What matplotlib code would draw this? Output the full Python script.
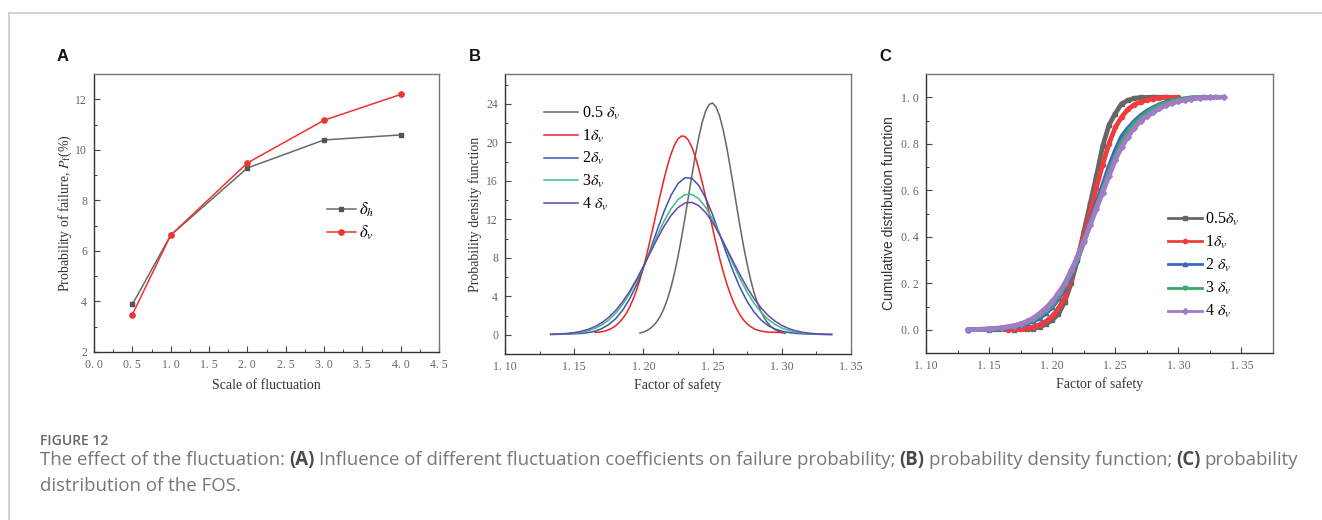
import matplotlib
matplotlib.use("Agg")
import matplotlib.pyplot as plt
from matplotlib.lines import Line2D
from matplotlib.ticker import MultipleLocator

plt.rcParams["font.family"] = ["Liberation Serif", "DejaVu Serif"]
plt.rcParams["mathtext.fontset"] = "stix"

# ---- Panel A: probability of failure vs scale of fluctuation ----
scale = [0.5, 1.0, 2.0, 3.0, 4.0]
pf_h = [3.88, 6.62, 9.28, 10.39, 10.59]
pf_v = [3.48, 6.62, 9.48, 11.17, 12.19]
a_xticks = [0.0, 0.5, 1.0, 1.5, 2.0, 2.5, 3.0, 3.5, 4.0, 4.5]
a_xlabels = ["0. 0", "0. 5", "1. 0", "1. 5", "2. 0", "2. 5", "3. 0", "3. 5", "4. 0", "4. 5"]
a_yticks = [2, 4, 6, 8, 10, 12]

# ---- Panel B: probability density of FOS ----
b_x_05 = [1.1975, 1.2, 1.2025, 1.205, 1.2075, 1.21, 1.2125, 1.215, 1.2175, 1.22, 1.2225,
          1.225, 1.2275, 1.23, 1.2325, 1.235, 1.2375, 1.24, 1.2425, 1.245, 1.2475, 1.25,
          1.2525, 1.255, 1.2575, 1.26, 1.2625, 1.265, 1.2675, 1.27, 1.2725, 1.275, 1.2775,
          1.28, 1.2825, 1.285, 1.2875, 1.29, 1.2925, 1.295, 1.2975, 1.3, 1.3025]
b_y_05 = [0.18, 0.28, 0.43, 0.66, 0.98, 1.42, 2.01, 2.78, 3.76, 4.97, 6.43, 8.13, 10.05,
          12.12, 14.31, 16.50, 18.61, 20.51, 22.09, 23.26, 23.94, 24.08, 23.68, 22.76,
          21.38, 19.63, 17.62, 15.46, 13.25, 11.11, 9.10, 7.29, 5.70, 4.36, 3.26, 2.39,
          1.70, 1.19, 0.81, 0.54, 0.35, 0.23, 0.14]
b_x_1 = [1.165, 1.1675, 1.17, 1.1725, 1.175, 1.1775, 1.18, 1.1825, 1.185, 1.1875, 1.19,
         1.1925, 1.195, 1.1975, 1.2, 1.2025, 1.205, 1.2075, 1.21, 1.2125, 1.215, 1.2175,
         1.22, 1.2225, 1.225, 1.2275, 1.23, 1.2325, 1.235, 1.2375, 1.24, 1.2425, 1.245,
         1.2475, 1.25, 1.2525, 1.255, 1.2575, 1.26, 1.2625, 1.265, 1.2675, 1.27, 1.2725,
         1.275, 1.2775, 1.28, 1.2825, 1.285, 1.2875, 1.29, 1.295, 1.3]
b_y_1 = [0.25, 0.27, 0.32, 0.40, 0.52, 0.70, 0.94, 1.27, 1.68, 2.19, 2.86, 3.67, 4.62,
         5.74, 7.00, 8.40, 9.92, 11.50, 13.13, 14.73, 16.25, 17.63, 18.81, 19.73, 20.36,
         20.66, 20.61, 20.22, 19.51, 18.50, 17.26, 15.83, 14.29, 12.67, 11.06, 9.48, 8.00,
         6.63, 5.41, 4.34, 3.42, 2.66, 2.03, 1.52, 1.12, 0.85, 0.62, 0.48, 0.38, 0.32,
         0.28, 0.25, 0.23]
b_x = [1.133, 1.14, 1.145, 1.15, 1.155, 1.16, 1.165, 1.17, 1.175, 1.18, 1.185, 1.19,
       1.195, 1.2, 1.205, 1.21, 1.215, 1.22, 1.225, 1.23, 1.235, 1.24, 1.245, 1.25, 1.255,
       1.26, 1.265, 1.27, 1.275, 1.28, 1.285, 1.29, 1.295, 1.3, 1.305, 1.31, 1.315, 1.32,
       1.325, 1.33, 1.336]
b_y_2 = [0.03, 0.05, 0.07, 0.10, 0.14, 0.22, 0.37, 0.64, 1.06, 1.68, 2.55, 3.71, 5.17,
         6.91, 8.86, 10.89, 12.84, 14.51, 15.72, 16.32, 16.26, 15.52, 14.21, 12.47, 10.49,
         8.46, 6.54, 4.85, 3.45, 2.35, 1.54, 0.96, 0.60, 0.37, 0.23, 0.15, 0.10, 0.07,
         0.05, 0.03, 0.02]
b_y_3 = [0.04, 0.07, 0.10, 0.16, 0.25, 0.41, 0.66, 1.03, 1.54, 2.24, 3.14, 4.27, 5.59,
         7.09, 8.70, 10.32, 11.83, 13.11, 14.05, 14.56, 14.59, 14.14, 13.24, 12.00, 10.50,
         8.90, 7.28, 5.77, 4.41, 3.27, 2.34, 1.62, 1.08, 0.70, 0.44, 0.28, 0.18, 0.11,
         0.07, 0.05, 0.03]
b_y_4 = [0.05, 0.09, 0.14, 0.22, 0.36, 0.56, 0.85, 1.26, 1.81, 2.53, 3.43, 4.50, 5.74,
         7.11, 8.54, 9.97, 11.29, 12.40, 13.22, 13.69, 13.76, 13.42, 12.70, 11.67, 10.40,
         9.01, 7.57, 6.17, 4.88, 3.75, 2.80, 2.02, 1.42, 0.97, 0.64, 0.41, 0.26, 0.16,
         0.10, 0.06, 0.04]
b_yticks = [0, 4, 8, 12, 16, 20, 24]

# ---- Panel C: cumulative distribution of FOS ----
c_x_05 = [1.15, 1.17, 1.18, 1.185, 1.19, 1.195, 1.2, 1.205, 1.21, 1.215, 1.22, 1.225,
          1.23, 1.235, 1.24, 1.245, 1.25, 1.255, 1.26, 1.265, 1.27, 1.28, 1.29]
c_y_05 = [0.0, 0.0, 0.002, 0.005, 0.012, 0.024, 0.042, 0.068, 0.12, 0.20, 0.30, 0.42,
          0.54, 0.66, 0.79, 0.88, 0.93, 0.972, 0.987, 0.995, 0.999, 1.0, 1.0]
c_x_1 = [1.165, 1.175, 1.18, 1.185, 1.19, 1.195, 1.2, 1.205, 1.21, 1.215, 1.22, 1.225,
         1.23, 1.235, 1.24, 1.245, 1.25, 1.255, 1.26, 1.265, 1.27, 1.275, 1.28, 1.285,
         1.29, 1.3]
c_y_1 = [0.0, 0.003, 0.006, 0.012, 0.022, 0.036, 0.058, 0.092, 0.14, 0.22, 0.31, 0.40,
         0.50, 0.61, 0.71, 0.80, 0.87, 0.915, 0.948, 0.968, 0.98, 0.988, 0.993, 0.997,
         0.999, 1.0]
c_x_2 = [1.133, 1.15, 1.16, 1.17, 1.175, 1.18, 1.185, 1.19, 1.195, 1.2, 1.205, 1.21,
         1.215, 1.22, 1.225, 1.23, 1.235, 1.24, 1.245, 1.25, 1.255, 1.26, 1.265, 1.27,
         1.275, 1.28, 1.285, 1.29, 1.295, 1.3, 1.31, 1.321]
c_y_2 = [0.0, 0.002, 0.006, 0.014, 0.020, 0.028, 0.038, 0.050, 0.072, 0.098, 0.135, 0.18,
         0.235, 0.30, 0.38, 0.46, 0.54, 0.62, 0.70, 0.77, 0.83, 0.865, 0.895, 0.92, 0.94,
         0.955, 0.968, 0.978, 0.985, 0.99, 0.997, 1.0]
c_x_3 = [1.133, 1.15, 1.16, 1.17, 1.175, 1.18, 1.185, 1.19, 1.195, 1.2, 1.205, 1.21,
         1.215, 1.22, 1.225, 1.23, 1.235, 1.24, 1.245, 1.25, 1.255, 1.26, 1.265, 1.27,
         1.275, 1.28, 1.285, 1.29, 1.295, 1.3, 1.31, 1.32, 1.33]
c_y_3 = [0.0, 0.003, 0.007, 0.016, 0.023, 0.032, 0.044, 0.060, 0.082, 0.108, 0.145, 0.19,
         0.245, 0.305, 0.375, 0.45, 0.525, 0.60, 0.675, 0.745, 0.805, 0.85, 0.885, 0.91,
         0.932, 0.95, 0.963, 0.974, 0.982, 0.988, 0.996, 0.999, 1.0]
c_x_4 = [1.133, 1.15, 1.16, 1.17, 1.175, 1.18, 1.185, 1.19, 1.195, 1.2, 1.205, 1.21,
         1.215, 1.22, 1.225, 1.23, 1.235, 1.24, 1.245, 1.25, 1.255, 1.26, 1.265, 1.27,
         1.275, 1.28, 1.285, 1.29, 1.295, 1.3, 1.305, 1.31, 1.317, 1.325, 1.336]
c_y_4 = [0.0, 0.004, 0.009, 0.018, 0.026, 0.036, 0.050, 0.070, 0.094, 0.122, 0.158, 0.20,
         0.255, 0.315, 0.38, 0.45, 0.52, 0.59, 0.66, 0.73, 0.785, 0.83, 0.868, 0.898,
         0.918, 0.935, 0.952, 0.965, 0.975, 0.982, 0.988, 0.992, 0.997, 0.999, 1.0]
c_yticks = [0.0, 0.2, 0.4, 0.6, 0.8, 1.0]
c_ylabels = ["0. 0", "0. 2", "0. 4", "0. 6", "0. 8", "1. 0"]

fos_ticks = [1.10, 1.15, 1.20, 1.25, 1.30, 1.35]
fos_labels = ["1. 10", "1. 15", "1. 20", "1. 25", "1. 30", "1. 35"]

W, H = 1322, 520
fig = plt.figure(figsize=(W / 100, H / 100), dpi=100)


def box(l, t, r, b):
    return [l / W, 1 - b / H, (r - l) / W, (b - t) / H]


def style(ax):
    for s in ["left", "bottom"]:
        ax.spines[s].set_color("#333333")
        ax.spines[s].set_linewidth(1.0)
    for s in ["top", "right"]:
        ax.spines[s].set_color("#777777")
        ax.spines[s].set_linewidth(1.0)
    ax.tick_params(which="both", direction="in", top=False, right=False,
                   color="#444444", labelcolor="#666666", labelsize=8.5)
    ax.tick_params(which="major", length=4, width=0.8, pad=5)
    ax.tick_params(which="minor", length=2.5, width=0.7)


# ---- A ----
ax1 = fig.add_axes(box(94, 74, 439, 352))
ax1.plot(scale, pf_h, color="#6a6a6a", lw=1.1, marker="s", ms=3.4, mfc="#555555",
         mec="#555555", label=r"$\delta_h$")
ax1.plot(scale, pf_v, color="#ee3333", lw=1.1, marker="o", ms=3.8, label=r"$\delta_v$")
ax1.set_xlim(0, 4.5)
ax1.set_ylim(2, 13)
ax1.set_xticks(a_xticks)
ax1.set_xticklabels(a_xlabels)
ax1.set_yticks(a_yticks)
ax1.xaxis.set_minor_locator(MultipleLocator(0.25))
ax1.yaxis.set_minor_locator(MultipleLocator(1))
style(ax1)
ax1.set_xlabel("Scale of fluctuation", fontsize=10, color="#333333", labelpad=6)
ax1.set_ylabel(r"Probability of failure, $P_{\rm f}$(%)", fontsize=10, color="#333333",
               labelpad=1)
ax1.legend(loc="upper left", bbox_to_anchor=(0.674, 0.545), frameon=False, fontsize=12,
           handlelength=1.75, handletextpad=0.2, labelspacing=0.3, borderpad=0,
           borderaxespad=0)

# ---- B ----
ax2 = fig.add_axes(box(505, 74, 851, 354))
b_series = [(b_x_05, b_y_05, "#666666", r"0.5 $\delta_v$"),
            (b_x_1, b_y_1, "#ee2222", r"1$\delta_v$"),
            (b_x, b_y_2, "#3b55ad", r"2$\delta_v$"),
            (b_x, b_y_3, "#3cbc8c", r"3$\delta_v$"),
            (b_x, b_y_4, "#6a44a8", r"4 $\delta_v$")]
for xs, ys, col, lab in b_series:
    ax2.plot(xs, ys, color=col, lw=1.1, label=lab)
ax2.set_xlim(1.10, 1.35)
ax2.set_ylim(-2, 27.1)
ax2.set_xticks(fos_ticks)
ax2.set_xticklabels(fos_labels)
ax2.set_yticks(b_yticks)
ax2.xaxis.set_minor_locator(MultipleLocator(0.025))
ax2.yaxis.set_minor_locator(MultipleLocator(2))
style(ax2)
ax2.set_xlabel("Factor of safety", fontsize=10, color="#333333", labelpad=4)
ax2.set_ylabel("Probability density function", fontsize=10, color="#333333", labelpad=3)
ax2.legend(loc="upper left", bbox_to_anchor=(0.113, 0.89), frameon=False, fontsize=11.5,
           handlelength=2.1, handletextpad=0.3, labelspacing=0.35, borderpad=0,
           borderaxespad=0)

# ---- C ----
ax3 = fig.add_axes(box(926, 74, 1273, 353))
c_series = [(c_x_05, c_y_05, "#666666", "s", r"0.5$\delta_v$"),
            (c_x_1, c_y_1, "#f03c3c", "o", r"1$\delta_v$"),
            (c_x_2, c_y_2, "#3a68bd", "^", r"2 $\delta_v$"),
            (c_x_3, c_y_3, "#3aa86a", "v", r"3 $\delta_v$"),
            (c_x_4, c_y_4, "#a07cc4", "D", r"4 $\delta_v$")]
handles = []
for xs, ys, col, mk, lab in c_series:
    ax3.plot(xs, ys, color=col, lw=3.4, marker=mk, ms=3, solid_capstyle="round")
    handles.append(Line2D([], [], color=col, lw=2.0, marker=mk, ms=3, label=lab))
ax3.set_xlim(1.10, 1.375)
ax3.set_ylim(-0.1, 1.1)
ax3.set_xticks(fos_ticks)
ax3.set_xticklabels(fos_labels)
ax3.set_yticks(c_yticks)
ax3.set_yticklabels(c_ylabels)
ax3.xaxis.set_minor_locator(MultipleLocator(0.025))
ax3.yaxis.set_minor_locator(MultipleLocator(0.1))
style(ax3)
ax3.set_xlabel("Factor of safety", fontsize=10, color="#333333", labelpad=4)
ax3.set_ylabel("Cumulative distribution function", fontsize=10, color="#333333",
               family=["Liberation Sans", "DejaVu Sans"], labelpad=4)
ax3.legend(handles=handles, loc="upper left", bbox_to_anchor=(0.698, 0.51), frameon=False,
           fontsize=11.5, handlelength=2.1, handletextpad=0.2, labelspacing=0.38,
           borderpad=0, borderaxespad=0)

# ---- panel letters ----
for x, lab in [(63, "A"), (475, "B"), (885, "C")]:
    fig.text(x / W, 1 - 56 / H, lab, fontsize=12, fontweight="bold", ha="center",
             va="center", family=["Liberation Sans", "DejaVu Sans"], color="#111111")

# ---- page frame ----
fig.add_artist(Line2D([9 / W, 1], [1 - 13 / H, 1 - 13 / H], color="#cccccc", lw=1.2))
fig.add_artist(Line2D([9 / W, 9 / W], [0, 1 - 13 / H], color="#cccccc", lw=1.2))

# ---- caption ----
cap_font = ["Open Sans", "DejaVu Sans"]
cap_size = 13.45
fig.text(40 / W, 1 - 445 / H, "FIGURE 12", fontsize=10, fontweight="semibold",
         color="#666666", family=cap_font, va="baseline")
pieces = [("The effect of the fluctuation:", "normal"), ("(A)", "bold"),
          ("Influence of different fluctuation coefficients on failure probability;", "normal"),
          ("(B)", "bold"), ("probability density function;", "normal"), ("(C)", "bold"),
          ("probability", "normal")]
renderer = fig.canvas.get_renderer()
x0 = 40
for txt, wt in pieces:
    t = fig.text(x0 / W, 1 - 465 / H, txt, fontsize=cap_size, fontweight=wt,
                 color="#4a4a4a" if wt == "bold" else "#777777", family=cap_font,
                 va="baseline", ha="left")
    x0 += t.get_window_extent(renderer=renderer).width + 4.2
fig.text(40 / W, 1 - 491 / H, "distribution of the FOS.", fontsize=cap_size,
         color="#777777", family=cap_font, va="baseline")

fig.savefig("out.png", dpi=100)
